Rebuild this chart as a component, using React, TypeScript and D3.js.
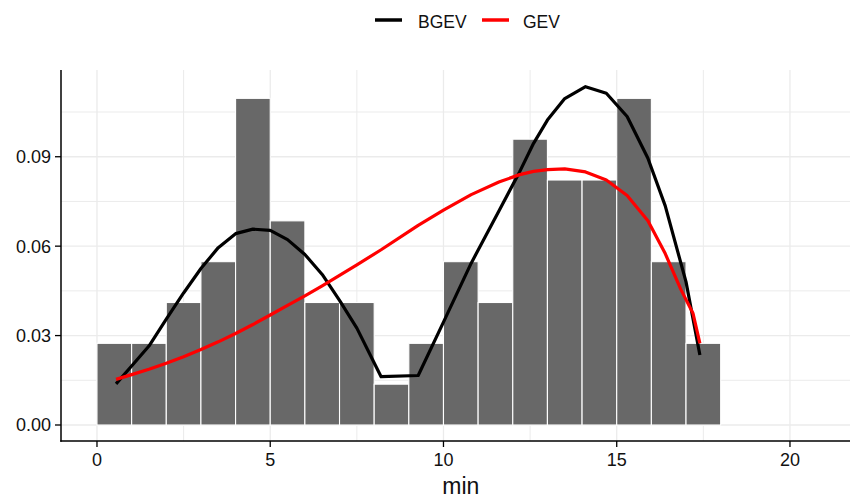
import React from "react";
import * as d3 from "d3";

const W = 850;
const H = 499;

// Histogram: bin starts (width 1) and counts (n = 73), density = count / 73
const binStarts = [0, 1, 2, 3, 4, 5, 6, 7, 8, 9, 10, 11, 12, 13, 14, 15, 16, 17, 18, 19, 20];
const binCounts = [2, 2, 3, 4, 8, 5, 3, 3, 1, 2, 4, 3, 7, 6, 6, 8, 4, 2, 0, 0, 0];
const nObs = 73;

// Fitted densities
const bgevX = [0.55, 1.0, 1.5, 2.0, 2.5, 3.0, 3.5, 4.0, 4.5, 5.0, 5.5, 6.0, 6.5, 7.0, 7.5, 8.2, 9.27, 10.0, 10.8, 11.6, 12.2, 12.6, 13.0, 13.5, 14.1, 14.7, 15.3, 15.9, 16.4, 17.0, 17.4];
const bgevY = [0.0138, 0.0198, 0.0265, 0.0355, 0.0443, 0.0525, 0.0595, 0.0642, 0.0657, 0.0653, 0.0622, 0.0572, 0.0505, 0.0418, 0.0325, 0.0162, 0.0166, 0.0345, 0.0543, 0.0718, 0.0850, 0.0945, 0.1023, 0.1095, 0.1135, 0.1113, 0.1035, 0.0895, 0.0735, 0.0480, 0.0235];
const gevX = [0.55, 1.0, 1.5, 2.0, 2.5, 3.0, 3.5, 4.0, 4.5, 5.0, 5.5, 6.0, 6.5, 7.0, 7.5, 8.2, 9.27, 10.0, 10.8, 11.6, 12.2, 12.6, 13.0, 13.5, 14.1, 14.7, 15.3, 15.9, 16.4, 16.85, 17.2, 17.4];
const gevY = [0.0153, 0.0169, 0.0187, 0.0207, 0.0229, 0.0253, 0.0279, 0.0307, 0.0337, 0.0369, 0.0401, 0.0433, 0.0467, 0.0502, 0.0537, 0.0588, 0.0670, 0.0721, 0.0773, 0.0815, 0.0840, 0.0851, 0.0857, 0.0859, 0.0849, 0.0822, 0.0770, 0.0685, 0.0575, 0.0455, 0.0375, 0.0274];

const xTicks = [0, 5, 10, 15, 20];
const xMinor = [2.5, 7.5, 12.5, 17.5];
const yTicks = [0, 0.03, 0.06, 0.09];
const yMinor = [0.015, 0.045, 0.075, 0.105];
const seriesNames = ["BGEV", "GEV"];
const seriesColors = ["#000000", "#ff0000"];

export default function App() {
  const x = d3.scaleLinear().domain([-1.05, 22.05]).range([60.6, 861]);
  const y = d3.scaleLinear().domain([-0.00537, 0.1191]).range([441, 70]);
  const left = 61;
  const right = W;
  const top = 70;
  const bottom = 441;

  const line = d3
    .line<[number, number]>()
    .x((d) => x(d[0]))
    .y((d) => y(d[1]))
    .curve(d3.curveLinear);

  const bgevPts = bgevX.map((v, i) => [v, bgevY[i]] as [number, number]);
  const gevPts = gevX.map((v, i) => [v, gevY[i]] as [number, number]);

  const fmt = d3.format(".2f");
  const textColor = "#111";
  const font = "'Liberation Sans', Arial, sans-serif";

  return (
    <svg width={W} height={H} style={{ position: "absolute", left: 0, top: 0, background: "#fff" }} fontFamily={font}>
      <defs>
        <clipPath id="panel">
          <rect x={left} y={top} width={right - left} height={bottom - top} />
        </clipPath>
      </defs>
      <g clipPath="url(#panel)">
        {xMinor.map((t) => (
          <line key={"xm" + t} x1={x(t)} x2={x(t)} y1={top} y2={bottom} stroke="#ebebeb" strokeWidth={1} />
        ))}
        {yMinor.map((t) => (
          <line key={"ym" + t} x1={left} x2={right} y1={y(t)} y2={y(t)} stroke="#ebebeb" strokeWidth={1} />
        ))}
        {xTicks.map((t) => (
          <line key={"xg" + t} x1={x(t)} x2={x(t)} y1={top} y2={bottom} stroke="#ebebeb" strokeWidth={1.3} />
        ))}
        {yTicks.map((t) => (
          <line key={"yg" + t} x1={left} x2={right} y1={y(t)} y2={y(t)} stroke="#ebebeb" strokeWidth={1.3} />
        ))}
        {binStarts.map((b, i) => {
          const dens = binCounts[i] / nObs;
          return (
            <rect
              key={"bar" + b}
              x={x(b)}
              y={y(dens)}
              width={x(b + 1) - x(b)}
              height={y(0) - y(dens)}
              fill="#686868"
              stroke="#ffffff"
              strokeWidth={1.1}
            />
          );
        })}
        <path d={line(bgevPts) || ""} fill="none" stroke={seriesColors[0]} strokeWidth={3.2} strokeLinejoin="round" />
        <path d={line(gevPts) || ""} fill="none" stroke={seriesColors[1]} strokeWidth={3.2} strokeLinejoin="round" />
      </g>

      {/* axes */}
      <line x1={left} x2={left} y1={top} y2={bottom + 0.75} stroke="#000" strokeWidth={1.5} />
      <line x1={left - 0.75} x2={right} y1={bottom} y2={bottom} stroke="#000" strokeWidth={1.5} />
      {yTicks.map((t) => (
        <g key={"yt" + t}>
          <line x1={left - 6} x2={left} y1={y(t)} y2={y(t)} stroke="#000" strokeWidth={1.3} />
          <text x={51} y={y(t)} dy="0.36em" textAnchor="end" fontSize={18} fill={textColor}>
            {fmt(t)}
          </text>
        </g>
      ))}
      {xTicks.map((t) => (
        <g key={"xt" + t}>
          <line x1={x(t)} x2={x(t)} y1={bottom} y2={bottom + 6} stroke="#000" strokeWidth={1.3} />
          <text x={x(t)} y={466} textAnchor="middle" fontSize={18} fill={textColor}>
            {t}
          </text>
        </g>
      ))}
      <text x={(60.6 + 861) / 2} y={494} textAnchor="middle" fontSize={23} fill={textColor}>
        min
      </text>

      {/* legend */}
      {seriesNames.map((name, i) => {
        const kx = [375, 482][i];
        const tx = [418, 523][i];
        return (
          <g key={"lg" + name}>
            <line x1={kx} x2={kx + 27} y1={20} y2={20} stroke={seriesColors[i]} strokeWidth={3.5} />
            <text x={tx} y={27.5} fontSize={17.5} fill={textColor}>
              {name}
            </text>
          </g>
        );
      })}
    </svg>
  );
}
